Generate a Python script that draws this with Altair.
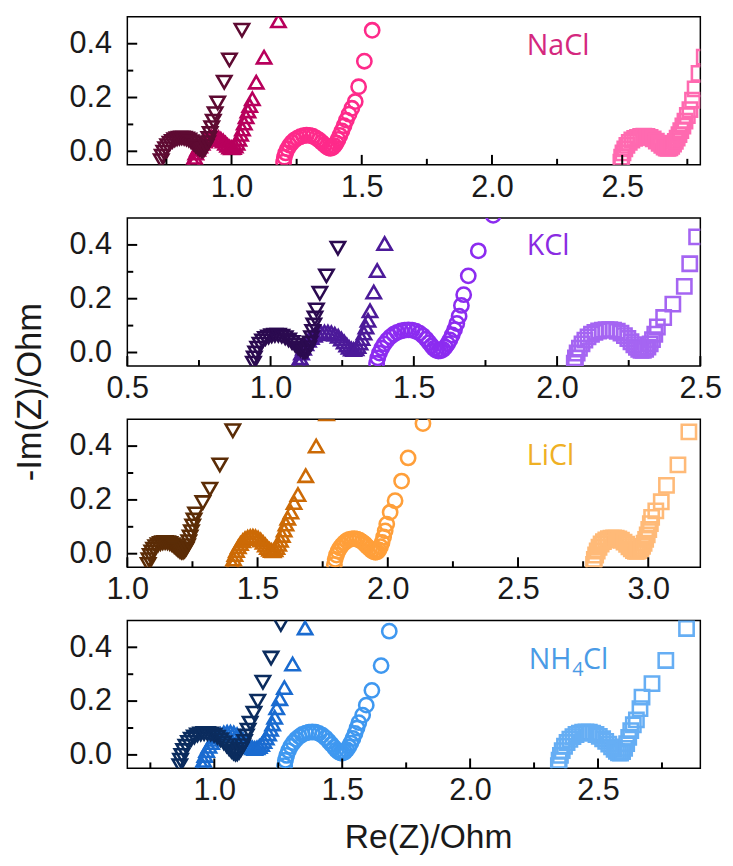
import altair as alt
import pandas as pd

# ---------------- data ----------------
# NaCl panel
NACL_DOWN_X = [0.730,0.734,0.740,0.747,0.755,0.764,0.773,0.782,0.791,0.800,0.809,0.818,0.827,0.836,0.845,0.854,0.862,0.870,0.877,0.884,0.890,0.896,0.902,0.908,0.913,0.918,0.924,0.930,0.937,0.947,0.972,0.992,1.040]
NACL_DOWN_Y = [-0.035,-0.018,-0.003,0.010,0.021,0.030,0.037,0.043,0.047,0.049,0.050,0.049,0.046,0.042,0.036,0.029,0.021,0.014,0.008,0.004,0.003,0.008,0.018,0.032,0.048,0.066,0.088,0.112,0.140,0.180,0.257,0.340,0.450]
NACL_UP_X = [0.855,0.858,0.863,0.870,0.878,0.887,0.896,0.905,0.914,0.923,0.932,0.941,0.950,0.959,0.968,0.977,0.985,0.993,1.000,1.007,1.014,1.021,1.028,1.035,1.042,1.049,1.056,1.063,1.070,1.080,1.095,1.125,1.180]
NACL_UP_Y = [-0.040,-0.022,-0.006,0.008,0.020,0.030,0.038,0.045,0.050,0.053,0.054,0.053,0.050,0.045,0.038,0.030,0.022,0.016,0.013,0.014,0.020,0.030,0.045,0.063,0.083,0.105,0.128,0.150,0.170,0.195,0.257,0.350,0.485]
NACL_CIR_X = [1.200,1.203,1.208,1.215,1.223,1.232,1.242,1.253,1.264,1.276,1.288,1.300,1.312,1.324,1.336,1.347,1.357,1.366,1.374,1.381,1.388,1.395,1.402,1.409,1.416,1.424,1.432,1.441,1.451,1.462,1.475,1.488,1.510,1.540]
NACL_CIR_Y = [-0.040,-0.022,-0.006,0.009,0.022,0.033,0.042,0.049,0.054,0.058,0.060,0.059,0.056,0.050,0.042,0.033,0.024,0.017,0.012,0.011,0.014,0.021,0.031,0.044,0.059,0.076,0.095,0.116,0.138,0.160,0.185,0.240,0.335,0.450]
NACL_SQ_X = [2.495,2.498,2.503,2.510,2.518,2.527,2.537,2.548,2.559,2.571,2.583,2.595,2.607,2.619,2.631,2.642,2.652,2.661,2.669,2.676,2.683,2.690,2.697,2.704,2.711,2.718,2.725,2.733,2.741,2.750,2.760,2.770,2.780,2.795,2.815]
NACL_SQ_Y = [-0.040,-0.022,-0.006,0.009,0.022,0.033,0.042,0.048,0.052,0.055,0.056,0.055,0.052,0.046,0.038,0.030,0.022,0.016,0.012,0.011,0.013,0.019,0.027,0.037,0.049,0.062,0.077,0.094,0.112,0.133,0.155,0.190,0.232,0.290,0.350]

# KCl panel
KCL_DOWN_X = [0.940,0.943,0.948,0.955,0.963,0.972,0.982,0.993,1.004,1.015,1.027,1.039,1.051,1.063,1.075,1.086,1.096,1.105,1.113,1.120,1.127,1.133,1.138,1.143,1.147,1.151,1.155,1.160,1.172,1.195,1.235]
KCL_DOWN_Y = [-0.040,-0.020,-0.002,0.016,0.031,0.043,0.052,0.058,0.062,0.064,0.064,0.061,0.055,0.047,0.037,0.027,0.017,0.009,0.003,0.002,0.006,0.018,0.035,0.055,0.078,0.102,0.128,0.158,0.220,0.285,0.388]
KCL_UP_X = [1.100,1.103,1.108,1.115,1.123,1.132,1.142,1.153,1.164,1.176,1.188,1.200,1.212,1.224,1.236,1.247,1.257,1.266,1.274,1.282,1.290,1.298,1.305,1.312,1.319,1.326,1.333,1.340,1.347,1.360,1.372,1.398]
KCL_UP_Y = [-0.040,-0.020,-0.002,0.016,0.032,0.045,0.056,0.064,0.070,0.074,0.076,0.076,0.073,0.068,0.060,0.050,0.039,0.028,0.019,0.013,0.011,0.014,0.022,0.035,0.052,0.072,0.095,0.120,0.155,0.225,0.305,0.405]
KCL_CIR_X = [1.370,1.374,1.380,1.388,1.397,1.407,1.418,1.430,1.442,1.455,1.468,1.481,1.494,1.507,1.520,1.532,1.543,1.553,1.562,1.570,1.578,1.586,1.594,1.602,1.610,1.618,1.626,1.634,1.642,1.650,1.658,1.666,1.674,1.690,1.725,1.777]
KCL_CIR_Y = [-0.040,-0.020,-0.002,0.016,0.032,0.046,0.058,0.068,0.075,0.080,0.083,0.084,0.083,0.079,0.072,0.062,0.050,0.037,0.025,0.015,0.008,0.005,0.006,0.011,0.020,0.032,0.047,0.065,0.085,0.108,0.135,0.175,0.215,0.285,0.378,0.510]
KCL_SQ_X = [2.060,2.064,2.070,2.078,2.087,2.097,2.108,2.120,2.132,2.145,2.158,2.171,2.184,2.197,2.210,2.223,2.235,2.247,2.258,2.268,2.277,2.285,2.293,2.301,2.309,2.317,2.325,2.333,2.341,2.350,2.372,2.404,2.444,2.463,2.487]
KCL_SQ_Y = [-0.040,-0.020,-0.002,0.016,0.032,0.046,0.058,0.068,0.075,0.080,0.083,0.085,0.085,0.083,0.079,0.072,0.063,0.052,0.040,0.029,0.019,0.012,0.008,0.008,0.012,0.020,0.032,0.048,0.068,0.095,0.130,0.180,0.246,0.330,0.430]

# LiCl panel
LICL_DOWN_X = [1.080,1.083,1.088,1.094,1.101,1.109,1.118,1.127,1.136,1.145,1.154,1.163,1.172,1.180,1.188,1.195,1.202,1.208,1.214,1.220,1.226,1.231,1.236,1.241,1.246,1.251,1.256,1.262,1.290,1.317,1.355,1.405]
LICL_DOWN_Y = [-0.040,-0.022,-0.007,0.006,0.017,0.026,0.033,0.038,0.041,0.042,0.041,0.038,0.033,0.027,0.020,0.014,0.009,0.006,0.006,0.010,0.018,0.030,0.045,0.062,0.082,0.103,0.125,0.148,0.190,0.240,0.330,0.457]
LICL_UP_X = [1.405,1.408,1.413,1.419,1.426,1.434,1.443,1.452,1.462,1.472,1.482,1.492,1.502,1.512,1.521,1.530,1.538,1.546,1.553,1.560,1.567,1.574,1.581,1.588,1.595,1.602,1.609,1.616,1.628,1.640,1.655,1.685,1.725,1.765]
LICL_UP_Y = [-0.040,-0.020,-0.003,0.012,0.026,0.038,0.048,0.056,0.061,0.064,0.065,0.063,0.058,0.051,0.042,0.032,0.023,0.016,0.012,0.011,0.015,0.023,0.035,0.050,0.068,0.088,0.110,0.132,0.155,0.190,0.220,0.290,0.400,0.520]
LICL_CIR_X = [1.795,1.798,1.803,1.809,1.816,1.824,1.833,1.842,1.852,1.862,1.872,1.882,1.892,1.902,1.912,1.921,1.930,1.938,1.946,1.953,1.960,1.966,1.972,1.978,1.984,1.990,1.996,2.009,2.028,2.053,2.078,2.135]
LICL_CIR_Y = [-0.040,-0.021,-0.005,0.009,0.021,0.032,0.041,0.048,0.053,0.055,0.056,0.054,0.050,0.044,0.036,0.027,0.019,0.012,0.007,0.005,0.007,0.014,0.026,0.042,0.062,0.085,0.110,0.154,0.197,0.270,0.356,0.484]
LICL_SQ_X = [2.790,2.793,2.798,2.804,2.811,2.819,2.828,2.837,2.847,2.857,2.867,2.877,2.887,2.897,2.907,2.917,2.926,2.935,2.943,2.951,2.958,2.965,2.972,2.978,2.984,2.990,2.996,3.002,3.008,3.013,3.029,3.050,3.070,3.114,3.156]
LICL_SQ_Y = [-0.040,-0.021,-0.005,0.010,0.024,0.036,0.045,0.051,0.056,0.058,0.059,0.058,0.055,0.050,0.043,0.035,0.026,0.018,0.012,0.009,0.009,0.012,0.018,0.027,0.039,0.053,0.070,0.090,0.112,0.135,0.159,0.193,0.254,0.330,0.453]

# NH4Cl panel
NH4_DOWN_X = [0.865,0.868,0.873,0.880,0.889,0.899,0.910,0.922,0.934,0.947,0.960,0.973,0.986,0.999,1.012,1.025,1.037,1.048,1.058,1.067,1.075,1.083,1.090,1.097,1.104,1.111,1.118,1.125,1.132,1.140,1.155,1.170,1.190,1.222,1.260]
NH4_DOWN_Y = [-0.040,-0.020,-0.002,0.016,0.032,0.046,0.058,0.067,0.074,0.078,0.080,0.080,0.078,0.073,0.066,0.056,0.045,0.034,0.023,0.014,0.007,0.003,0.004,0.010,0.020,0.034,0.050,0.070,0.092,0.118,0.155,0.200,0.270,0.360,0.485]
NH4_UP_X = [0.955,0.958,0.963,0.970,0.979,0.989,1.000,1.012,1.024,1.037,1.050,1.063,1.076,1.089,1.101,1.112,1.122,1.131,1.140,1.149,1.158,1.167,1.176,1.185,1.194,1.203,1.212,1.220,1.228,1.236,1.244,1.256,1.274,1.306,1.355]
NH4_UP_Y = [-0.040,-0.020,-0.002,0.016,0.032,0.046,0.058,0.068,0.076,0.081,0.084,0.084,0.081,0.075,0.067,0.057,0.047,0.038,0.031,0.026,0.024,0.026,0.031,0.039,0.050,0.063,0.078,0.095,0.115,0.140,0.175,0.209,0.250,0.338,0.472]
NH4_CIR_X = [1.275,1.278,1.283,1.290,1.299,1.309,1.320,1.332,1.344,1.357,1.370,1.383,1.396,1.409,1.422,1.435,1.447,1.458,1.468,1.477,1.486,1.494,1.502,1.510,1.518,1.526,1.534,1.542,1.550,1.558,1.565,1.580,1.594,1.616,1.652,1.684]
NH4_CIR_Y = [-0.040,-0.020,-0.002,0.016,0.032,0.046,0.058,0.068,0.076,0.081,0.084,0.085,0.084,0.080,0.073,0.063,0.051,0.039,0.028,0.018,0.011,0.007,0.007,0.011,0.019,0.030,0.044,0.061,0.080,0.100,0.120,0.148,0.185,0.240,0.332,0.460]
NH4_SQ_X = [2.345,2.348,2.353,2.360,2.369,2.379,2.390,2.402,2.414,2.427,2.440,2.453,2.466,2.479,2.492,2.505,2.518,2.530,2.542,2.553,2.563,2.572,2.580,2.588,2.596,2.604,2.612,2.620,2.628,2.638,2.650,2.664,2.672,2.711,2.765,2.846]
NH4_SQ_Y = [-0.040,-0.020,-0.002,0.016,0.032,0.046,0.058,0.068,0.076,0.081,0.084,0.085,0.084,0.081,0.076,0.069,0.060,0.050,0.040,0.030,0.021,0.013,0.008,0.007,0.012,0.024,0.042,0.065,0.090,0.112,0.130,0.172,0.215,0.265,0.351,0.470]

# series colours (dark -> light) per panel
NACL_COLORS = ["#5e0a32", "#b8005c", "#fe2a8a", "#ff6ab0"]
KCL_COLORS = ["#2b0a50", "#4c1a99", "#8c2cf0", "#a565f2"]
LICL_COLORS = ["#5b2c06", "#cc6a06", "#ff9f3a", "#ffba78"]
NH4_COLORS = ["#0b2c5e", "#1a6bd0", "#3f98f0", "#66aef4"]

# panel label text
NACL_LABEL = ["NaCl"]
KCL_LABEL = ["KCl"]
LICL_LABEL = ["LiCl"]
NH4_LABEL = ["NH", "4", "Cl"]
LABEL_COLORS = {"NaCl": "#d4287e", "KCl": "#8a2be2", "LiCl": "#efb024", "NH4Cl": "#4a9be6"}

# axes
Y_MAJOR = [0.0, 0.2, 0.4]
Y_MINOR = [0.1, 0.3]
P1_XDOM, P1_XMAJ, P1_XMIN = [0.6, 2.8], [1.0, 1.5, 2.0, 2.5], [0.75, 1.25, 1.75, 2.25, 2.75]
P2_XDOM, P2_XMAJ, P2_XMIN = [0.5, 2.5], [0.5, 1.0, 1.5, 2.0, 2.5], [0.75, 1.25, 1.75, 2.25]
P3_XDOM, P3_XMAJ, P3_XMIN = [1.0, 3.2], [1.0, 1.5, 2.0, 2.5, 3.0], [1.25, 1.75, 2.25, 2.75]
P4_XDOM, P4_XMAJ, P4_XMIN = [0.66, 2.9], [1.0, 1.5, 2.0, 2.5], [0.75, 1.25, 1.75, 2.25, 2.75]

SHAPES = ["triangle-down", "triangle-up", "circle", "square"]
SIZES = [210, 210, 140, 115]

W, H = 581, 150
TICK_FONT = "Liberation Sans"


def panel(name, series, colors, xdom, xmaj, xmin, label_parts, label_x, label_y,
          ytitle=False, xtitle=False):
    keys = [f"{name}-{s}" for s in SHAPES]
    rows = []
    # draw lightest series first so the darkest one ends on top
    for k, (xs, ys) in reversed(list(zip(keys, series))):
        assert len(xs) == len(ys), k
        for a, b in zip(xs, ys):
            rows.append({"x": a, "y": b, "s": k})
    df = pd.DataFrame(rows)

    xsc = alt.Scale(domain=xdom, nice=False, zero=False)
    ysc = alt.Scale(domain=[-0.05, 0.5], nice=False, zero=False)

    xaxis_kw = dict(values=xmaj, format=".1f", ticks=False, tickSize=0, domain=False,
                    grid=False, labelFontSize=31, labelFont=TICK_FONT, labelColor="#1a1a1a",
                    labelPadding=8, labelFlush=False, labelOverlap=False)
    if xtitle:
        xaxis_kw.update(title="Re(Z)/Ohm", titleFontSize=34, titleFont=TICK_FONT,
                        titleFontWeight="normal", titleColor="#1a1a1a", titleX=305,
                        titleY=70, titleBaseline="middle", titleAlign="center")
    else:
        xaxis_kw.update(title=None)
    yaxis_kw = dict(values=Y_MAJOR, format=".1f", ticks=False, tickSize=0, domain=False,
                    grid=False, labelFontSize=31, labelFont=TICK_FONT, labelColor="#1a1a1a",
                    labelPadding=16)
    if ytitle:
        yaxis_kw.update(title="-Im(Z)/Ohm", titleFontSize=35, titleFont=TICK_FONT,
                        titleFontWeight="normal", titleColor="#1a1a1a", titleX=-99,
                        titleY=176, titleAngle=270, titleBaseline="middle",
                        titleAlign="center")
    else:
        yaxis_kw.update(title=None)
    xaxis = alt.Axis(**xaxis_kw)
    yaxis = alt.Axis(**yaxis_kw)

    pts = alt.Chart(df).mark_point(filled=False, strokeWidth=2.6, opacity=1, clip=True).encode(
        x=alt.X("x:Q", scale=xsc, axis=xaxis),
        y=alt.Y("y:Q", scale=ysc, axis=yaxis),
        color=alt.Color("s:N", scale=alt.Scale(domain=keys, range=colors), legend=None),
        shape=alt.Shape("s:N", scale=alt.Scale(domain=keys, range=SHAPES), legend=None),
        size=alt.Size("s:N", scale=alt.Scale(domain=keys, range=SIZES), legend=None),
    )

    def xticks(vals, ln):
        return alt.Chart(pd.DataFrame({"x": vals})).mark_rule(color="black", strokeWidth=2).encode(
            x=alt.X("x:Q", scale=xsc, axis=xaxis), y=alt.value(H), y2=alt.value(H - ln))

    def yticks(vals, ln):
        return alt.Chart(pd.DataFrame({"y": vals})).mark_rule(color="black", strokeWidth=2).encode(
            y=alt.Y("y:Q", scale=ysc, axis=yaxis), x=alt.value(0), x2=alt.value(ln))

    layers = [pts, xticks(xmaj, 10), xticks(xmin, 6), yticks(Y_MAJOR, 10), yticks(Y_MINOR, 6)]

    col = LABEL_COLORS[name]
    if len(label_parts) == 1:
        layers.append(alt.Chart(pd.DataFrame({"t": label_parts})).mark_text(
            align="left", baseline="alphabetic", font="Open Sans", fontSize=29, color=col
        ).encode(text="t:N", x=alt.value(label_x), y=alt.value(label_y)))
    else:
        offs = [0, 44, 55]
        fs = [29, 20, 29]
        dy = [0, 7, 0]
        for part, o, f, d in zip(label_parts, offs, fs, dy):
            layers.append(alt.Chart(pd.DataFrame({"t": [part]})).mark_text(
                align="left", baseline="alphabetic", font="Open Sans", fontSize=f, color=col
            ).encode(text="t:N", x=alt.value(label_x + o), y=alt.value(label_y + d)))

    return alt.layer(*layers).properties(width=W, height=H)


p1 = panel("NaCl", [(NACL_DOWN_X, NACL_DOWN_Y), (NACL_UP_X, NACL_UP_Y), (NACL_CIR_X, NACL_CIR_Y), (NACL_SQ_X, NACL_SQ_Y)],
           NACL_COLORS, P1_XDOM, P1_XMAJ, P1_XMIN, NACL_LABEL, 405, 39)
p2 = panel("KCl", [(KCL_DOWN_X, KCL_DOWN_Y), (KCL_UP_X, KCL_UP_Y), (KCL_CIR_X, KCL_CIR_Y), (KCL_SQ_X, KCL_SQ_Y)],
           KCL_COLORS, P2_XDOM, P2_XMAJ, P2_XMIN, KCL_LABEL, 405, 38, ytitle=True)
p3 = panel("LiCl", [(LICL_DOWN_X, LICL_DOWN_Y), (LICL_UP_X, LICL_UP_Y), (LICL_CIR_X, LICL_CIR_Y), (LICL_SQ_X, LICL_SQ_Y)],
           LICL_COLORS, P3_XDOM, P3_XMAJ, P3_XMIN, LICL_LABEL, 405, 46)
p4 = panel("NH4Cl", [(NH4_DOWN_X, NH4_DOWN_Y), (NH4_UP_X, NH4_UP_Y), (NH4_CIR_X, NH4_CIR_Y), (NH4_SQ_X, NH4_SQ_Y)],
           NH4_COLORS, P4_XDOM, P4_XMAJ, P4_XMIN, NH4_LABEL, 407, 49, xtitle=True)

chart = alt.vconcat(p1, p2, p3, p4, spacing=54, bounds="flush").resolve_scale(
    x="independent", y="independent", color="independent", shape="independent", size="independent"
).properties(
    padding={"left": 4, "top": 2, "right": 2, "bottom": 0},
    background="white",
).configure_view(stroke="black", strokeWidth=1.5)

chart.save("out.html", embed_options={"renderer": "svg", "actions": False})
